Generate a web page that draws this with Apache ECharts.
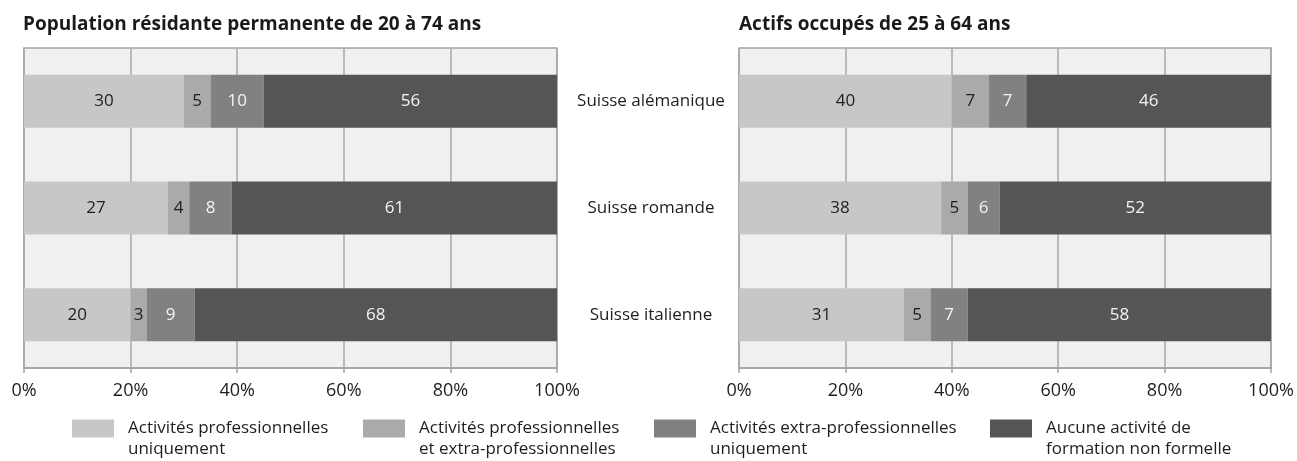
<!DOCTYPE html>
<html>
<head>
<meta charset="utf-8">
<script src="https://cdn.jsdelivr.net/npm/echarts@6/dist/echarts.min.js"></script>
<style>html,body{margin:0;padding:0;background:#fff}#c{width:1297px;height:461px}</style>
</head>
<body>
<div id="c"></div>
<script>
const categories = ['Suisse alémanique', 'Suisse romande', 'Suisse italienne'];
const seriesNames = [
  'Activités professionnelles\nuniquement',
  'Activités professionnelles\net extra-professionnelles',
  'Activités extra-professionnelles\nuniquement',
  'Aucune activité de\nformation non formelle'
];
const titles = ['Population résidante permanente de 20 à 74 ans', 'Actifs occupés de 25 à 64 ans'];
// Population résidante permanente de 20 à 74 ans
const popProOnly = [30, 27, 20];
const popBoth = [5, 4, 3];
const popExtraOnly = [10, 8, 9];
const popNone = [56, 61, 68];
// Actifs occupés de 25 à 64 ans
const actProOnly = [40, 38, 31];
const actBoth = [7, 5, 5];
const actExtraOnly = [7, 6, 7];
const actNone = [46, 52, 58];
const tickValues = [0, 20, 40, 60, 80, 100];

const colors = ['#c6c7c8', '#a9aaab', '#808183', '#555557'];
const labelColors = ['#1e1e1e', '#1e1e1e', '#f4f4f4', '#f4f4f4'];
const FONT = '"Open Sans", sans-serif';

const popData = [popProOnly, popBoth, popExtraOnly, popNone];
const actData = [actProOnly, actBoth, actExtraOnly, actNone];

function makeSeries(dataSets, idx, stackName) {
  return dataSets.map((d, i) => ({
    name: seriesNames[i],
    type: 'bar',
    stack: stackName,
    xAxisIndex: idx,
    yAxisIndex: idx,
    barWidth: 53,
    data: d,
    itemStyle: { color: colors[i] },
    label: {
      show: true,
      position: 'inside',
      fontFamily: FONT,
      fontSize: 17,
      color: labelColors[i]
    },
    emphasis: { disabled: true },
    clip: true
  }));
}

function xAxisCfg(gi) {
  return {
    gridIndex: gi,
    type: 'value',
    min: tickValues[0],
    max: tickValues[tickValues.length - 1],
    interval: tickValues[1] - tickValues[0],
    axisLine: { show: true, lineStyle: { color: '#a3a3a3', width: 1.5 } },
    axisTick: { show: true, length: 5, lineStyle: { color: '#a3a3a3', width: 1.5 } },
    splitLine: { show: true, lineStyle: { color: '#a8a8a8', width: 1.5 } },
    axisLabel: { formatter: '{value}%', fontFamily: FONT, fontSize: 18, color: '#1e1e1e', margin: 14 }
  };
}

function yAxisCfg(gi, showLabels) {
  return {
    gridIndex: gi,
    type: 'category',
    inverse: true,
    data: categories,
    axisLine: { show: false },
    axisTick: { show: false },
    splitLine: { show: false },
    axisLabel: {
      show: showLabels,
      align: 'center',
      margin: 88,
      fontFamily: FONT,
      fontSize: 17,
      color: '#1e1e1e'
    }
  };
}

const legendLefts = [72, 363, 654, 990];
const legends = seriesNames.map((n, i) => ({
  data: [n],
  left: legendLefts[i],
  top: 397,
  padding: 0,
  itemWidth: 42,
  itemHeight: 18,
  icon: 'rect',
  selectedMode: false,
  itemStyle: { borderWidth: 0 },
  formatter: function (name) { return ' \n' + name; },
  textStyle: {
    fontFamily: FONT,
    fontSize: 17,
    color: '#1e1e1e',
    lineHeight: 21,
    padding: [0, 0, 0, 9]
  }
}));

const chart = echarts.init(document.getElementById('c'), null, { renderer: 'canvas' });
chart.setOption({
  animation: false,
  backgroundColor: '#ffffff',
  title: [
    { text: titles[0], left: 18, top: 10, textStyle: { fontFamily: FONT, fontSize: 19, fontWeight: 'bold', color: '#1a1a1a' } },
    { text: titles[1], left: 734, top: 10, textStyle: { fontFamily: FONT, fontSize: 19, fontWeight: 'bold', color: '#1a1a1a' } }
  ],
  legend: legends,
  grid: [
    { left: 24, right: 740, top: 48, bottom: 93, show: true, backgroundColor: '#eff0ef', borderColor: '#a3a3a3', borderWidth: 1.5 },
    { left: 739, right: 26, top: 48, bottom: 93, show: true, backgroundColor: '#eff0ef', borderColor: '#a3a3a3', borderWidth: 1.5 }
  ],
  xAxis: [xAxisCfg(0), xAxisCfg(1)],
  yAxis: [yAxisCfg(0, false), yAxisCfg(1, true)],
  series: makeSeries(popData, 0, 'pop').concat(makeSeries(actData, 1, 'act'))
});
</script>
</body>
</html>
